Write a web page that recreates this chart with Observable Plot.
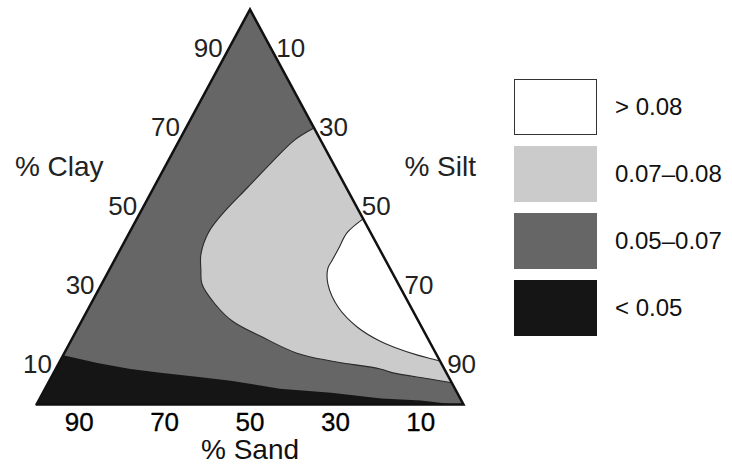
<!DOCTYPE html>
<html><head><meta charset="utf-8">
<script src="https://cdn.jsdelivr.net/npm/d3@7"></script>
<script src="https://cdn.jsdelivr.net/npm/@observablehq/plot@0.6"></script>
<style>
body{margin:0;background:#fff;font-family:"Liberation Sans",Arial,Helvetica,sans-serif;}
#wrap{position:relative;width:732px;height:468px;overflow:hidden;}
#legend{position:absolute;left:514px;top:79px;}
.item{display:flex;align-items:center;height:56px;margin-bottom:11px;}
.sw{width:83px;height:56px;box-sizing:border-box;}
.lab{margin-left:18px;font-size:24px;color:#111;white-space:nowrap;}
</style></head><body><div id="wrap"><div id="legend"></div></div>
<script>
// Ternary points as [sand, silt, clay] in percent
const triangle = [[100,0,0],[0,100,0],[0,0,100]];
// < 0.05 boundary (from left edge to bottom edge)
const contour005 = [[87.5,0,12.5],[80.5,9,10.5],[73.5,17.5,9],[66.5,25.5,8],[59,34,7],[51.5,42.5,6],[41,55,4],[29.5,67.5,3],[18.5,80,1.5],[9.5,89.5,1],[2,98,0],[100,0,0]];
// 0.07 boundary (right edge to right edge)
const contour007 = [[0,30,70],[6,27,67],[14,24.5,61.5],[23,22,55],[32,19.5,48.5],[38,18.5,43.5],[42.5,19.5,38],[44.5,21.5,34],[46,23.5,30.5],[45.5,29,25.5],[43.5,35.5,21],[38.5,44.5,17],[32.5,54.5,13],[25.5,63.5,11],[15,76,9],[12.5,79.5,8],[5,88.5,6.5],[0,94.5,5.5]];
// 0.08 boundary
const contour008 = [[0,53,47],[5.5,51,43.5],[9.5,51,39.5],[12.5,51,36.5],[14.5,51,34.5],[16.5,53,30.5],[17,58.5,24.5],[15,65.5,19.5],[11.5,72.5,16],[9,76.5,14.5],[4.5,83,12.5],[1.5,87,11.5],[0,89,11]];

const clayTicks = [10,30,50,70,90];
const siltTicks = [10,30,50,70,90];
const sandTicks = [90,70,50,30,10];

const legendLabels = ["> 0.08","0.07\u20130.08","0.05\u20130.07","< 0.05"];
const legendColors = ["#ffffff","#cbcbcb","#666666","#151515"];

const toXY = ([sand, silt, clay]) => ({x: (silt + clay/2)/100, y: clay/100});

const font = "'Liberation Sans', Arial, Helvetica, sans-serif";
const plot = Plot.plot({
  width: 732, height: 468,
  marginLeft: 36, marginRight: 269, marginTop: 9, marginBottom: 64,
  x: {domain: [0,1], axis: null},
  y: {domain: [0,1], axis: null},
  style: {fontFamily: font, background: "transparent", overflow: "visible"},
  marks: [
    Plot.line(triangle.map(toXY), {x: "x", y: "y", fill: legendColors[2], stroke: "none"}),
    Plot.line(contour005.map(toXY), {x: "x", y: "y", fill: legendColors[3], stroke: "none"}),
    Plot.line(contour007.map(toXY), {x: "x", y: "y", fill: legendColors[1], stroke: "#2a2a2a", strokeWidth: 1.1, curve: "catmull-rom"}),
    Plot.line(contour008.map(toXY), {x: "x", y: "y", fill: legendColors[0], stroke: "#2a2a2a", strokeWidth: 1.1, curve: "catmull-rom"}),
    Plot.line([...triangle, triangle[0]].map(toXY), {x: "x", y: "y", stroke: "#111", strokeWidth: 2.5, strokeLinejoin: "miter", strokeMiterlimit: 10}),
    Plot.text(clayTicks, {x: c => c/200, y: c => c/100, text: c => String(c), textAnchor: "end", dx: -6, fontSize: 26, fill: "#222"}),
    Plot.text(siltTicks, {x: s => (s + (100 - s)/2)/100, y: s => (100 - s)/100, text: s => String(s), textAnchor: "start", dx: 5, fontSize: 26, fill: "#222"}),
    Plot.text(sandTicks, {x: d => (100 - d)/100, y: () => 0, text: d => String(d), dy: 18, fontSize: 26, fill: "#000", stroke: "#000", strokeWidth: 0.3}),
    Plot.text(["% Clay"], {x: () => 0.3, y: () => 0.6, text: d => d, textAnchor: "end", dx: -61, fontSize: 28, fill: "#222"}),
    Plot.text(["% Silt"], {x: () => 0.7, y: () => 0.6, text: d => d, textAnchor: "start", dx: 69, fontSize: 28, fill: "#222"}),
    Plot.text(["% Sand"], {x: () => 0.5, y: () => 0, text: d => d, dy: 46, fontSize: 28, fill: "#111"})
  ]
});
document.getElementById("wrap").prepend(plot);

const legend = document.getElementById("legend");
legendLabels.forEach((lab, i) => {
  const item = document.createElement("div");
  item.className = "item";
  const sw = document.createElement("div");
  sw.className = "sw";
  sw.style.background = legendColors[i];
  if (i === 0) sw.style.border = "1.5px solid #333";
  const t = document.createElement("div");
  t.className = "lab";
  t.textContent = lab;
  item.append(sw, t);
  legend.append(item);
});
</script>
</body></html>
